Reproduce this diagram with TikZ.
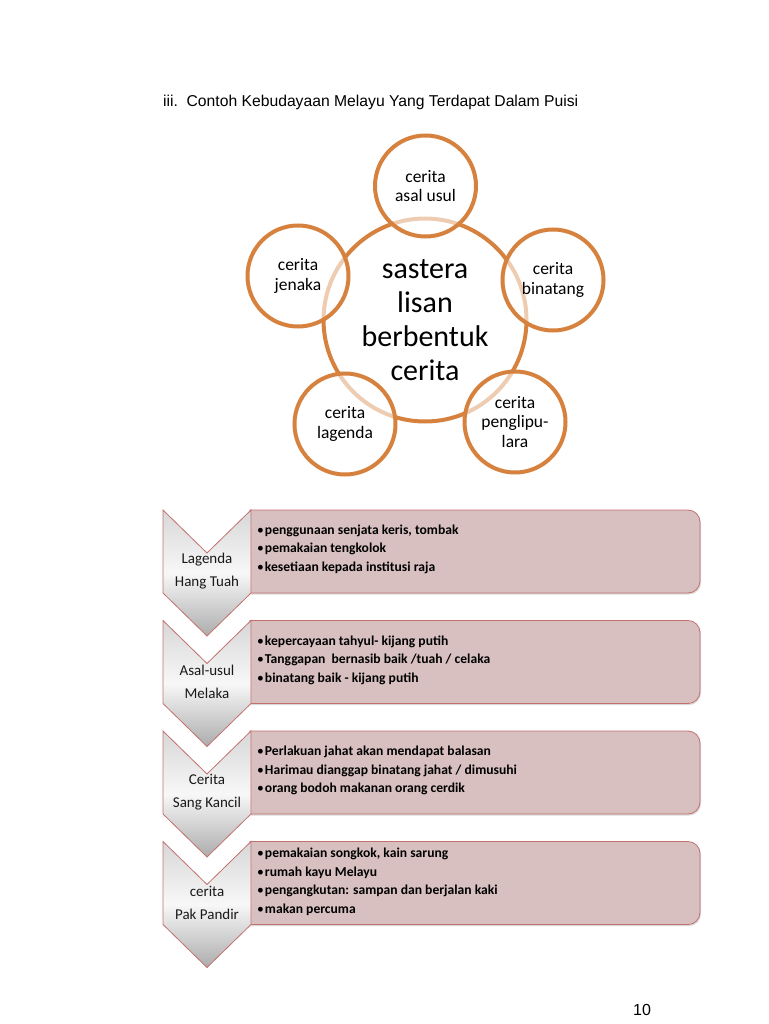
\documentclass[tikz,border=0pt]{standalone}
\usepackage{fontspec}
\setmainfont{Carlito}
\newfontfamily\arialfont{Liberation Sans}
\usepackage{tikz}
\usetikzlibrary{positioning,shadows}
\definecolor{oren}{RGB}{214,129,62}
\definecolor{tepimerah}{RGB}{196,112,110}
\definecolor{merahmuda}{RGB}{216,192,193}
\definecolor{kelabuatas}{RGB}{215,215,215}
\definecolor{kelabubawah}{RGB}{172,172,172}
\newcommand{\titik}{{\mdseries\textbullet}\kern1pt}

\begin{document}
\begin{tikzpicture}[x=1pt, y=1pt,
    pusatnode/.style={circle, draw=oren, line width=4pt, fill=white, minimum size=203pt, inner sep=0pt, align=center, font=\fontsize{30}{34}\selectfont},
    cabangnode/.style={circle, draw=oren, line width=4pt, fill=white, fill opacity=0.6, draw opacity=1, text opacity=1, minimum size=101pt, inner sep=0pt, align=center, font=\fontsize{17.5}{19.5}\selectfont},
    chevronbox/.style={draw=tepimerah, line width=0.8pt, top color=kelabuatas, bottom color=kelabubawah, middle color=white!97!black},
    isikotak/.style={draw=tepimerah, line width=0.8pt, fill=merahmuda, drop shadow={opacity=0.3, shadow xshift=1pt, shadow yshift=-1.5pt}},
    labelchev/.style={align=center, font=\fontsize{15}{23}\selectfont, text=black!90},
    senarai/.style={anchor=west, align=left, inner sep=0pt, font=\bfseries\fontsize{13.6}{18.5}\selectfont},
    ]
    \useasboundingbox (0,0) rectangle (768,-1024);

    %Title and page number
    \node[anchor=base west, inner sep=0pt, font=\arialfont\fontsize{15.7}{19}\selectfont] (judul) at (163,-107) {iii.\hspace{0.55em}Contoh Kebudayaan Melayu Yang Terdapat Dalam Puisi};
    \node[anchor=base, inner sep=0pt, font=\arialfont\fontsize{16}{19}\selectfont] (muka) at (642,-1015) {10};

    %Circles
    \node[pusatnode] (pusat) at (425,-320) {sastera\\lisan\\berbentuk\\cerita};
    \node[cabangnode] (asal)     at (425.5,-186) {cerita\\asal usul};
    \node[cabangnode] (jenaka)   at (298,-276)   {cerita\\jenaka};
    \node[cabangnode] (lagenda)  at (345,-424)   {cerita\\lagenda};
    \node[cabangnode] (lipur)    at (515,-422)   {cerita\\penglipu-\\lara};
    \node[cabangnode] (binatang) at (553,-280)   {cerita\\binatang};

    %Chevrons and boxes
    \foreach \t in {510,620.5,731,841.5} {
        \draw[isikotak] (250,-\t) -- (688,-\t) arc[start angle=90, end angle=0, radius=12]
            -- (700,-\t-71) arc[start angle=0, end angle=-90, radius=12] -- (250,-\t-83) -- cycle;
        \draw[chevronbox] (163,-\t) -- (207,-\t-43) -- (251,-\t) -- (251,-\t-83)
            -- (207,-\t-126) -- (163,-\t-83) -- cycle;
    }

    %Labels
    \node[labelchev] (hangtuah) at (207,-571)   {Lagenda\\Hang Tuah};
    \node[labelchev] (melaka)   at (207,-681.5) {Asal-usul\\Melaka};
    \node[labelchev] (kancil)   at (207,-792)   {Cerita\\Sang Kancil};
    \node[labelchev] (pandir)   at (207,-902.5) {cerita\\Pak Pandir};

    \node[senarai] (isi1) at (257,-549) {\titik penggunaan senjata keris, tombak\\\titik pemakaian tengkolok\\\titik kesetiaan kepada institusi raja};
    \node[senarai] (isi2) at (257,-660) {\titik kepercayaan tahyul- kijang putih\\\titik Tanggapan\ \ bernasib baik /tuah / celaka\\\titik binatang baik - kijang putih};
    \node[senarai] (isi3) at (257,-770.5) {\titik Perlakuan jahat akan mendapat balasan\\\titik Harimau dianggap binatang jahat / dimusuhi\\\titik orang bodoh makanan orang cerdik};
    \node[senarai] (isi4) at (257,-882) {\titik pemakaian songkok, kain sarung\\\titik rumah kayu Melayu\\\titik pengangkutan: sampan dan berjalan kaki\\\titik makan percuma};
\end{tikzpicture}
\end{document}
